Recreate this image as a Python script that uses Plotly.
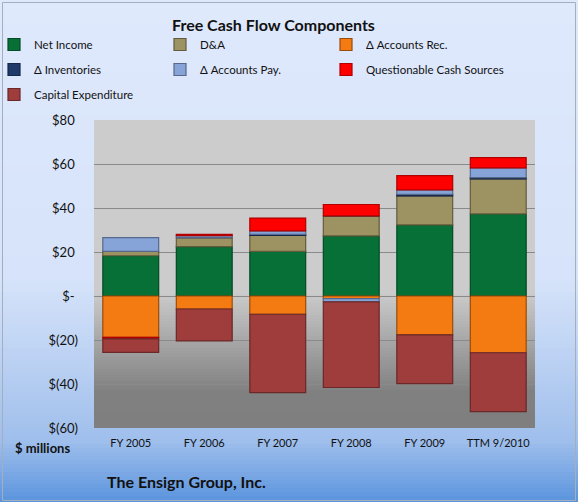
import plotly.graph_objects as go

categories = ["FY 2005", "FY 2006", "FY 2007", "FY 2008", "FY 2009", "TTM 9/2010"]
net_income = [18.3, 22.4, 20.3, 27.3, 32.3, 37.3]
d_and_a = [2.0, 4.1, 7.3, 9.1, 13.2, 15.9]
accounts_rec = [-18.8, -5.9, -8.3, -1.2, -17.7, -25.8]
inventories = [0.0, 0.0, 0.4, 0.0, 0.7, 0.6]
accounts_pay = [6.2, 0.9, 1.6, -1.5, 2.0, 4.4]
questionable = [-0.7, 0.6, 5.8, 5.2, 6.5, 4.7]
capex = [-6.1, -14.5, -35.6, -38.9, -22.1, -26.8]

tick_vals = [80, 60, 40, 20, 0, -20, -40, -60]
tick_text = ["$80\u00a0", "$60\u00a0", "$40\u00a0", "$20\u00a0", "$-\u00a0", "$(20)", "$(40)", "$(60)"]

# name, values, fill, outline, legend column
series = [
    ("Net Income", net_income, "#067036", "#044a24", "legend"),
    ("D&A", d_and_a, "#9c9262", "#635c3c", "legend2"),
    ("\u0394 Accounts Rec.", accounts_rec, "#f47a12", "#9a4c0a", "legend3"),
    ("\u0394 Inventories", inventories, "#1f3a68", "#14264a", "legend"),
    ("\u0394 Accounts Pay.", accounts_pay, "#86a4d8", "#56688c", "legend2"),
    ("Questionable Cash Sources", questionable, "#ff0000", "#b00000", "legend3"),
    ("Capital Expenditure", capex, "#9f3c3c", "#6a2828", "legend"),
]

W, H = 578, 502
L, R, T, B = 94, 43, 120, 74
PW, PH = W - L - R, H - T - B

def px_x(p):
    return (p - L) / PW

def px_y(p):
    return (H - B - p) / PH

fig = go.Figure()
for name, vals, col, lcol, lg in series:
    fig.add_trace(go.Bar(
        x=categories, y=vals, name=name, legend=lg, legendgroup=name,
        marker=dict(color=col, line=dict(color=lcol, width=1.2)),
        width=0.76,
    ))

shapes = []

def lerp(c1, c2, f):
    return tuple(int(round(a + (b - a) * f)) for a, b in zip(c1, c2))

def hexrgb(h):
    h = h.lstrip("#")
    return tuple(int(h[i:i + 2], 16) for i in (0, 2, 4))

def color_at(stops, y):
    for (y0, c0), (y1, c1) in zip(stops, stops[1:]):
        if y0 <= y <= y1:
            f = 0 if y1 == y0 else (y - y0) / (y1 - y0)
            return lerp(hexrgb(c0), hexrgb(c1), f)
    return hexrgb(stops[-1][1])

# page background gradient
page_stops = [(0, "#dfe9fc"), (280, "#d6e3fa"), (440, "#a0bfec"), (502, "#5a94dd")]
step = 4
for y in range(0, H, step):
    c = color_at(page_stops, y + step / 2)
    shapes.append(dict(type="rect", xref="paper", yref="paper", layer="below",
                       x0=px_x(0), x1=px_x(W), y0=px_y(y + step + 0.5), y1=px_y(y),
                       fillcolor="rgb(%d,%d,%d)" % c, line=dict(width=0)))

# plot area gradient
plot_stops = [(120, "#cccccc"), (292, "#cccccc"), (392, "#808080"), (428, "#7f7f7f")]
step2 = 3
for y in range(120, 428, step2):
    y1 = min(y + step2, 428)
    c = color_at(plot_stops, (y + y1) / 2)
    shapes.append(dict(type="rect", xref="paper", yref="paper", layer="below",
                       x0=0, x1=1, y0=px_y(y1 + 0.4 if y1 < 428 else 428), y1=px_y(y),
                       fillcolor="rgb(%d,%d,%d)" % c, line=dict(width=0)))

# outer border
shapes.append(dict(type="rect", xref="paper", yref="paper", layer="above",
                   x0=px_x(2.5), x1=px_x(575.5), y0=px_y(500.5), y1=px_y(2.5),
                   line=dict(color="#a5aebb", width=1), fillcolor="rgba(0,0,0,0)"))

font_family = "Lato, 'Open Sans', sans-serif"

legend_common = dict(orientation="v", xanchor="left", yanchor="top",
                     bgcolor="rgba(0,0,0,0)", font=dict(family=font_family, size=11.5, color="#111"),
                     itemwidth=30, tracegroupgap=6,
                     traceorder="grouped", itemclick=False)

leg_top = px_y(30)
fig.update_layout(
    width=W, height=H,
    margin=dict(l=L, r=R, t=T, b=B, pad=0, autoexpand=False),
    paper_bgcolor="rgba(0,0,0,0)",
    plot_bgcolor="rgba(0,0,0,0)",
    barmode="relative",
    shapes=shapes,
    legend=dict(x=px_x(-6), y=leg_top, **legend_common),
    legend2=dict(x=px_x(160), y=leg_top, **legend_common),
    legend3=dict(x=px_x(326), y=leg_top, **legend_common),
    xaxis=dict(showgrid=False, showline=False, ticks="", zeroline=False,
               tickfont=dict(family=font_family, size=11, color="#111"),
               ticklabelstandoff=7),
    yaxis=dict(range=[-60, 80], tickvals=tick_vals, ticktext=tick_text,
               showgrid=True, gridcolor="#8a8a8a", gridwidth=1,
               zeroline=True, zerolinecolor="#8a8a8a", zerolinewidth=1,
               showline=False, ticks="",
               tickfont=dict(family=font_family, size=13, color="#111"),
               ticklabelstandoff=15),
    annotations=[
        dict(text="<b>Free Cash Flow Components</b>", xref="paper", yref="paper",
             x=px_x(273), y=px_y(25), xanchor="center", yanchor="middle", showarrow=False,
             font=dict(family=font_family, size=16, color="#111")),
        dict(text="<b>$ millions</b>", xref="paper", yref="paper",
             x=px_x(42), y=px_y(448), xanchor="center", yanchor="middle", showarrow=False,
             font=dict(family=font_family, size=13, color="#111")),
        dict(text="<b>The Ensign Group, Inc.</b>", xref="paper", yref="paper",
             x=px_x(105), y=px_y(481), xanchor="left", yanchor="middle", showarrow=False,
             font=dict(family=font_family, size=16, color="#111")),
    ],
)

fig.write_html("out.html")
